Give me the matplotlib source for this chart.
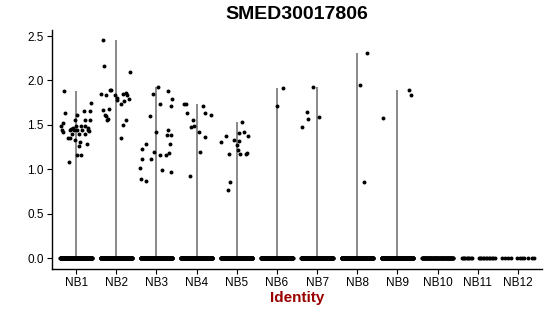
import matplotlib
matplotlib.use('Agg')
import matplotlib.pyplot as plt
import numpy as np

plt.rcParams['font.family'] = ['Liberation Sans', 'DejaVu Sans']

groups = ['NB1', 'NB2', 'NB3', 'NB4', 'NB5', 'NB6', 'NB7', 'NB8', 'NB9', 'NB10', 'NB11', 'NB12']

# expressed cells: (value, jitter offset)
nb1 = [(1.88, -0.29), (1.63, -0.27), (1.49, -0.37), (1.52, -0.32), (1.44, -0.35), (1.42, -0.32),
       (1.35, -0.20), (1.35, -0.16), (1.45, -0.12), (1.46, -0.07), (1.55, -0.02), (1.49, 0.00),
       (1.44, 0.02), (1.44, -0.05), (1.61, 0.02), (1.33, -0.02), (1.26, 0.07), (1.31, 0.11),
       (1.49, 0.13), (1.44, 0.15), (1.66, 0.20), (1.56, 0.23), (1.47, 0.29), (1.44, 0.30),
       (1.75, 0.37), (1.66, 0.34), (1.28, 0.28), (1.16, 0.02), (1.16, 0.12), (1.08, -0.17),
       (1.55, 0.35), (1.40, -0.09), (1.40, 0.22), (1.43, 0.33), (1.40, 0.08), (1.44, -0.15),
       (1.49, 0.22)]
nb2 = [(2.455, -0.33), (2.166, -0.30), (2.10, 0.35), (1.843, -0.38), (1.832, -0.25), (1.89, -0.15),
       (1.89, -0.12), (1.836, -0.02), (1.806, 0.03), (1.78, 0.02), (1.734, 0.12), (1.847, 0.18),
       (1.862, 0.25), (1.832, 0.27), (1.794, 0.32), (1.768, 0.20), (1.67, -0.32), (1.61, -0.28),
       (1.60, -0.25), (1.554, -0.23), (1.565, -0.21), (1.68, -0.17), (1.35, 0.11), (1.50, 0.17),
       (1.56, 0.25)]
nb3 = [(1.93, 0.05), (1.88, 0.30), (1.85, -0.09), (1.79, 0.38), (1.715, 0.37), (1.73, 0.10),
       (1.60, -0.15), (1.42, -0.01), (1.44, 0.30), (1.39, 0.27), (1.39, 0.37), (1.29, 0.34),
       (1.18, 0.32), (1.16, 0.23), (1.16, 0.09), (1.19, -0.06), (1.28, -0.27), (1.23, -0.35),
       (1.12, -0.37), (1.115, -0.13), (1.02, -0.40), (0.99, 0.15), (0.965, 0.37), (0.89, -0.38),
       (0.87, -0.25)]
nb4 = [(1.73, -0.32), (1.73, -0.27), (1.715, 0.17), (1.63, 0.20), (1.61, 0.37), (1.63, -0.23),
       (1.56, -0.08), (1.49, -0.07), (1.475, -0.14), (1.42, 0.05), (1.36, 0.22), (1.20, 0.08),
       (0.92, -0.17)]
nb5 = [(1.53, 0.14), (1.41, 0.06), (1.42, 0.19), (1.38, 0.27), (1.37, -0.27), (1.31, -0.38),
       (1.33, -0.06), (1.32, 0.06), (1.27, 0.01), (1.22, 0.04), (1.17, -0.19), (1.17, 0.07),
       (1.175, 0.22), (1.18, 0.26), (0.86, -0.18), (0.77, -0.22)]
nb6 = [(1.92, 0.14), (1.71, -0.005)]
nb7 = [(1.925, -0.09), (1.64, -0.25), (1.565, -0.22), (1.585, 0.04), (1.475, -0.38)]
nb8 = [(2.305, 0.24), (1.95, 0.08), (0.856, 0.18)]
nb9 = [(1.89, 0.28), (1.84, 0.35), (1.58, -0.36)]
expressed = [nb1, nb2, nb3, nb4, nb5, nb6, nb7, nb8, nb9, [], [], []]

# cells at zero: counts for the dense bands, explicit offsets for the sparse ones
zero_counts = [400, 400, 400, 400, 400, 400, 400, 400, 400, 90, 0, 0]
nb11_zero_offsets = [-0.40, -0.37, -0.34, -0.31, -0.28, -0.25, -0.22, -0.18, -0.15,
                     0.02, 0.05, 0.09, 0.12, 0.16, 0.20, 0.24, 0.28, 0.31, 0.35, 0.39, 0.42]
nb12_zero_offsets = [-0.40, -0.32, -0.24, -0.16, -0.03, 0.05, 0.11, 0.16, 0.26, 0.34, 0.40]

fig = plt.figure(figsize=(5.5, 3.16), dpi=100)
ax = fig.add_axes([0.0945, 0.1487, 0.891, 0.7576])

for i, g in enumerate(groups):
    pos = i + 1
    pts = expressed[i]
    vals = [v for v, o in pts]
    offs = [o for v, o in pts]
    if vals:
        ax.vlines(pos, 0, max(vals), color='#6a6a6a', lw=1.1, zorder=1)
    if i == 10:
        zo = nb11_zero_offsets
    elif i == 11:
        zo = nb12_zero_offsets
    else:
        zo = list(np.linspace(-0.39, 0.39, zero_counts[i]))
    ax.scatter([pos + o for o in zo], [0] * len(zo), s=8, color='black', lw=0, zorder=2)
    ax.scatter([pos + o for o in offs], vals, s=8, color='black', lw=0, zorder=2)

ax.set_xlim(0.4, 12.6)
ax.set_ylim(-0.1225, 2.5725)
ax.set_xticks(range(1, 13))
ax.set_xticklabels(groups)
ax.set_yticks([0, 0.5, 1.0, 1.5, 2.0, 2.5])
ax.set_yticklabels(['0.0', '0.5', '1.0', '1.5', '2.0', '2.5'])
ax.tick_params(axis='both', labelsize=8.5, length=3.5, width=0.8, color='black', pad=2.5)
for s in ['top', 'right']:
    ax.spines[s].set_visible(False)
for s in ['left', 'bottom']:
    ax.spines[s].set_linewidth(1.0)

fig.text(0.54, 0.955, 'SMED30017806', ha='center', va='center', fontsize=14, fontweight='bold')
fig.text(0.54, 0.057, 'Identity', ha='center', va='center', fontsize=11, fontweight='bold',
         color='#990000')

fig.savefig('out.png', dpi=100)
